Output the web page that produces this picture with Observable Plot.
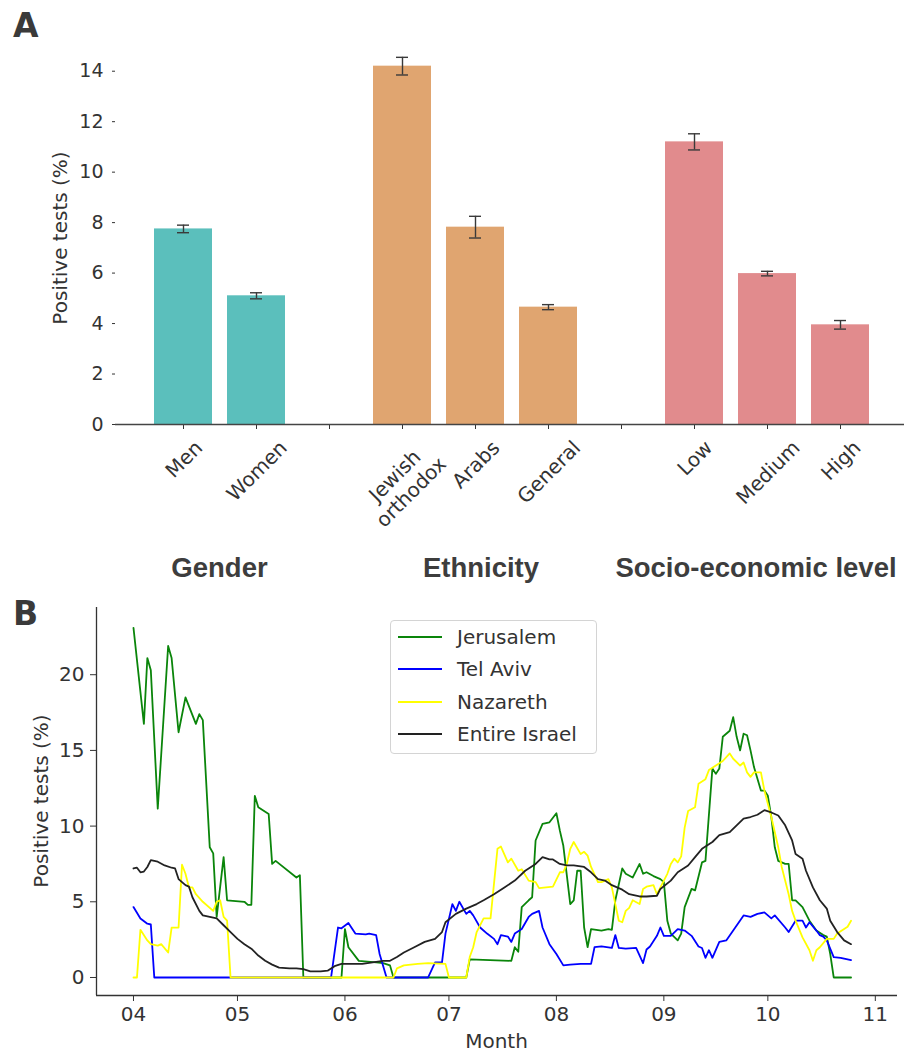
<!DOCTYPE html>
<html><head><meta charset="utf-8">
<script src="https://cdn.jsdelivr.net/npm/d3@7"></script>
<script src="https://cdn.jsdelivr.net/npm/@observablehq/plot@0.6"></script>
<style>
body{margin:0;background:#fff;font-family:"DejaVu Sans",sans-serif;}
#wrap{position:relative;width:904px;height:1053px;overflow:hidden;background:#fff;}
.abs{position:absolute;}
.panel{font:bold 33px "DejaVu Sans";line-height:33px;color:#3a3a3a;}
.group{font:bold 27.5px "Liberation Sans";line-height:28px;color:#3d3d3d;transform:translateX(-50%);white-space:nowrap;}
.ylab{font:20px "DejaVu Sans";color:#333;transform:translate(-50%,-50%) rotate(-90deg);white-space:nowrap;}
.xlab{font:20px "DejaVu Sans";color:#333;transform:translate(-50%,-50%);white-space:nowrap;}
.legend{border:1px solid #d4d4d4;border-radius:4px;background:rgba(255,255,255,0.85);box-sizing:border-box;}
.legrow{position:absolute;left:0;height:32px;width:100%;}
.legline{position:absolute;left:7px;top:15px;width:44px;height:2px;}
.legtext{position:absolute;left:66px;top:3px;font:20px "DejaVu Sans";line-height:26px;color:#333;white-space:nowrap;}
svg{position:absolute;}
</style></head>
<body><div id="wrap"></div>
<script>
// ---------- Panel A data ----------
const categoryOrder = ["Men","Women","gap1","Jewish orthodox","Arabs","General","gap2","Low","Medium","High"];
const barCategories = ["Men","Women","Jewish orthodox","Arabs","General","Low","Medium","High"];
const barLabels = ["Men","Women","Jewish\northodox","Arabs","General","Low","Medium","High"];
const barGroups = ["Gender","Gender","Ethnicity","Ethnicity","Ethnicity","Socio-economic level","Socio-economic level","Socio-economic level"];
const barValues = [7.75, 5.1, 14.2, 7.82, 4.65, 11.2, 5.98, 3.95];
const barErrors = [0.15, 0.12, 0.35, 0.43, 0.1, 0.32, 0.09, 0.17];
const groupNames = ["Gender","Ethnicity","Socio-economic level"];
const groupColors = ["#5bbfbc","#e0a570","#e18b8d"];
const yTicksA = [0,2,4,6,8,10,12,14];

// ---------- Panel B data: [days since 2020-04-01, positive tests %] ----------
const seriesStart = "2020-04-01";
const jerusalem = [[0,23.1],[3,16.75],[4,21.1],[5,20.3],[7,11.15],[10,21.9],[11,21.1],[13,16.2],[15,18.5],[18,16.75],[19,17.4],[20,17.0],[22,8.6],[23,8.2],[24,4.0],[26,7.95],[27,5.1],[32,5.0],[33,4.8],[34,4.8],[35,12.0],[36,11.25],[39,10.8],[40,7.5],[41,7.7],[47,6.6],[48,6.75],[49,0],[60,0],[61,3.2],[62,2.0],[65,1.1],[70,1.0],[72,0.95],[74,0.8],[75,0],[96,0],[97,1.2],[109,1.1],[110,2.0],[111,1.7],[112,4.65],[114,5.1],[115,5.3],[116,9.05],[118,10.15],[120,10.25],[122,10.85],[123,9.7],[124,8.7],[126,4.85],[127,5.1],[128,7.05],[129,7.05],[130,3.3],[131,2.0],[132,3.2],[135,3.1],[137,3.2],[138,3.15],[139,5.1],[141,7.2],[142,6.85],[144,6.6],[146,7.5],[147,6.85],[148,6.95],[150,6.7],[152,6.5],[153,6.3],[154,3.75],[155,2.9],[157,2.45],[158,2.9],[159,4.65],[161,5.85],[162,5.75],[164,7.6],[165,7.7],[167,13.8],[168,13.45],[169,13.8],[170,15.9],[172,16.3],[173,17.2],[174,15.9],[175,15.0],[176,16.1],[177,16.0],[178,15.0],[179,13.9],[181,12.35],[182,12.35],[183,12.0],[184,10.6],[185,8.6],[186,7.7],[188,7.5],[189,7.5],[190,5.1],[191,5.1],[193,4.65],[194,4.2],[195,3.75],[197,3.1],[199,2.8],[200,2.7],[201,1.55],[202,0],[207,0]];
const telAviv = [[0,4.65],[2,3.9],[4,3.55],[5,3.5],[6,0],[57,0],[59,3.3],[60,3.25],[62,3.6],[64,2.9],[67,2.85],[68,2.9],[70,2.8],[71,1.55],[73,0],[85,0],[87,1.0],[89,1.0],[90,2.9],[92,4.85],[93,4.4],[94,5.0],[96,4.2],[97,4.4],[98,4.1],[100,3.3],[102,2.9],[104,2.55],[105,2.2],[106,2.8],[108,2.7],[109,2.35],[110,2.9],[112,3.2],[114,4.0],[115,4.2],[117,4.4],[118,3.3],[120,2.2],[122,1.55],[124,0.8],[126,0.85],[129,0.9],[132,0.9],[133,2.0],[135,2.05],[138,1.95],[139,2.8],[140,1.95],[142,1.9],[145,1.95],[147,0.95],[148,1.85],[149,2.05],[151,2.75],[152,3.3],[153,2.75],[155,2.75],[157,3.2],[159,3.1],[161,2.75],[163,2.05],[164,1.95],[165,1.3],[166,1.8],[167,1.3],[169,2.35],[171,2.45],[173,3.1],[176,4.1],[178,4.0],[180,4.2],[182,4.3],[184,3.9],[185,4.1],[188,3.3],[189,3.0],[191,3.75],[193,3.75],[194,3.3],[195,3.65],[197,3.1],[198,2.8],[199,2.7],[200,2.45],[202,1.35],[204,1.3],[207,1.15]];
const nazareth = [[0,0],[1,0],[2,3.15],[4,2.45],[5,2.2],[7,2.1],[8,2.2],[10,1.65],[11,3.3],[13,3.3],[14,7.45],[15,6.85],[16,5.95],[17,5.95],[18,5.5],[20,5.0],[23,4.4],[24,5.0],[25,5.1],[26,4.0],[27,3.75],[28,0],[75,0],[76,0.6],[78,0.8],[82,0.9],[85,0.95],[90,0.9],[91,0],[96,0],[97,1.35],[98,2.0],[99,3.0],[101,3.9],[103,3.9],[104,6.2],[105,8.5],[106,8.65],[108,7.6],[109,7.85],[111,7.05],[112,7.15],[114,6.4],[116,6.3],[117,5.9],[119,5.95],[121,6.0],[123,6.95],[124,6.95],[125,7.5],[126,8.5],[127,8.95],[129,8.15],[130,8.3],[131,8.05],[132,7.3],[134,6.3],[135,6.3],[137,6.5],[138,5.95],[139,4.85],[140,3.75],[141,3.65],[142,4.4],[143,4.6],[144,5.1],[146,4.85],[147,5.85],[148,6.0],[150,6.1],[151,5.5],[152,5.95],[154,6.85],[155,7.5],[156,7.85],[157,7.6],[158,8.0],[159,9.9],[160,11.0],[162,11.25],[163,12.8],[165,13.1],[166,13.7],[168,14.0],[170,14.3],[172,14.8],[173,14.45],[175,14.0],[176,14.2],[177,13.55],[178,13.25],[179,13.55],[181,13.55],[182,12.35],[184,10.6],[186,8.6],[187,7.3],[189,5.5],[190,4.4],[191,3.75],[193,2.65],[195,1.8],[196,1.1],[197,1.8],[198,2.0],[200,2.55],[202,2.55],[203,2.9],[205,3.2],[206,3.35],[207,3.75]];
const entireIsrael = [[0,7.2],[1,7.25],[2,6.95],[3,7.0],[4,7.3],[5,7.75],[7,7.65],[9,7.4],[11,7.25],[12,7.2],[13,6.5],[15,6.1],[16,6.0],[17,5.3],[19,4.4],[20,4.1],[22,4.0],[24,3.9],[26,3.45],[28,3.0],[30,2.55],[32,2.2],[34,1.9],[36,1.45],[38,1.1],[40,0.85],[42,0.65],[45,0.6],[47,0.6],[49,0.55],[51,0.4],[54,0.4],[56,0.45],[58,0.75],[60,0.9],[63,0.9],[66,0.9],[69,1.0],[72,1.1],[74,1.1],[76,1.35],[78,1.65],[81,2.0],[84,2.35],[87,2.55],[89,3.0],[90,3.65],[93,4.2],[96,4.55],[99,4.85],[101,5.1],[104,5.5],[107,5.95],[110,6.4],[113,7.05],[116,7.5],[118,7.95],[120,7.8],[121,7.8],[123,7.5],[125,7.4],[127,7.4],[130,7.3],[132,6.95],[134,6.5],[136,6.4],[138,6.1],[141,5.8],[143,5.5],[146,5.35],[148,5.35],[151,5.4],[152,5.85],[155,6.4],[157,6.95],[160,7.4],[162,7.95],[164,8.5],[167,8.95],[169,9.4],[172,9.6],[174,10.05],[176,10.5],[178,10.6],[180,10.75],[182,11.05],[184,10.9],[186,10.7],[188,10.05],[190,9.05],[191,8.15],[193,7.85],[194,7.05],[196,5.95],[198,5.1],[200,4.55],[201,3.75],[203,3.0],[205,2.45],[207,2.2]];
const cityNames = ["Jerusalem","Tel Aviv","Nazareth","Entire Israel"];
const citySeries = [jerusalem, telAviv, nazareth, entireIsrael];
const cityColors = ["#0a850a","#0000ff","#ffff00","#222222"];
const yTicksB = [0,5,10,15,20];

// ---------- helpers ----------
const wrap = document.getElementById("wrap");
function addDiv(cls, text, left, top, extra) {
  const d = document.createElement("div");
  d.className = "abs " + cls;
  d.textContent = text;
  d.style.left = left + "px"; d.style.top = top + "px";
  if (extra) Object.assign(d.style, extra);
  wrap.appendChild(d);
  return d;
}
const ctx = document.createElement("canvas").getContext("2d");
function measure(s, font) { ctx.font = font; return ctx.measureText(s).width; }

// ---------- Panel A ----------
const bars = barCategories.map((c, i) => ({key: c, label: barLabels[i], group: barGroups[i], value: barValues[i], err: barErrors[i]}));
const fsA = 19;
const fsLab = 20;
const labelMarks = bars.map(b => {
  const lines = b.label.split("\n");
  const L = Math.max(...lines.map(s => measure(s, fsLab + "px DejaVu Sans")));
  const H = (lines.length - 1) * fsLab * 1.15 + fsLab * 0.75;
  const half = 0.3536 * (L + H);
  return Plot.text([b], {x: "key", y: 0, text: "label", rotate: -45, textAnchor: "middle", lineAnchor: "middle",
    lineHeight: 1.15, dy: 14 + half, fontSize: fsLab, fill: "#333"});
});

const plotA = Plot.plot({
  width: 904, height: 540,
  marginLeft: 115, marginRight: 0, marginTop: 48, marginBottom: 116,
  style: {fontFamily: "DejaVu Sans", fontSize: fsA + "px", color: "#333", background: "transparent", overflow: "visible"},
  x: {domain: categoryOrder, range: [135.5, 887], padding: 0.21, tickSize: 5, tickFormat: () => "", label: null},
  y: {domain: [0, 14.9], ticks: yTicksA, tickSize: 3, tickPadding: 9, label: null},
  color: {domain: groupNames, range: groupColors},
  marks: [
    Plot.barY(bars, {x: "key", y: "value", fill: "group"}),
    Plot.ruleX(bars, {x: "key", y1: d => d.value - d.err, y2: d => d.value + d.err, stroke: "#3a3a3a", strokeWidth: 1.4}),
    Plot.tickY(bars, {x: "key", y: d => d.value - d.err, stroke: "#3a3a3a", strokeWidth: 1.4, insetLeft: 23, insetRight: 23}),
    Plot.tickY(bars, {x: "key", y: d => d.value + d.err, stroke: "#3a3a3a", strokeWidth: 1.4, insetLeft: 23, insetRight: 23}),
    Plot.ruleY([0], {stroke: "#444", strokeWidth: 1.3}),
    ...labelMarks
  ]
});
plotA.style.left = "0px"; plotA.style.top = "0px";
wrap.appendChild(plotA);

// group labels centred under their groups, via the x scale
const xs = plotA.scale("x");
const center = k => xs.apply(k) + xs.bandwidth / 2;
const groupCenters = [
  (center("Men") + center("Women")) / 2,
  center("Arabs") + 6,
  center("Medium") - 11
];
groupNames.forEach((g, i) => addDiv("group", g, groupCenters[i], 554));
addDiv("panel", "A", 13, 9);
addDiv("ylab", "Positive tests (%)", 60, 238);

// ---------- Panel B ----------
const t0 = Date.parse(seriesStart + "T00:00:00Z");
const toDate = d => new Date(t0 + d * 864e5);
const rows = citySeries.flatMap((s, i) => s.map(([d, v]) => ({city: cityNames[i], date: toDate(d), value: v})));
const xDomainB = [toDate(-10.67), toDate(220.4)];
const yDomainB = [-1.19, 24.44];
const monthTicks = d3.utcMonth.range(toDate(0), toDate(215));

const plotB = Plot.plot({
  width: 904, height: 463,
  marginLeft: 96, marginRight: 7, marginTop: 17, marginBottom: 58,
  style: {fontFamily: "DejaVu Sans", fontSize: "20px", color: "#333", background: "transparent", overflow: "visible"},
  x: {type: "utc", domain: xDomainB, ticks: monthTicks, tickFormat: d3.utcFormat("%m"), tickSize: 6, tickPadding: 5, label: null},
  y: {domain: yDomainB, ticks: yTicksB, tickSize: 6, tickPadding: 6, label: null},
  color: {domain: cityNames, range: cityColors},
  marks: [
    Plot.ruleX([xDomainB[0]], {stroke: "#333", strokeWidth: 1.3}),
    Plot.ruleY([yDomainB[0]], {stroke: "#333", strokeWidth: 1.3}),
    Plot.line(rows, {x: "date", y: "value", z: "city", stroke: "city", strokeWidth: 1.8, curve: "linear"})
  ]
});
plotB.style.left = "0px"; plotB.style.top = "590px";
wrap.appendChild(plotB);

addDiv("panel", "B", 13, 597);
addDiv("ylab", "Positive tests (%)", 41, 801);
addDiv("xlab", "Month", 496.5, 1041);

// legend
const leg = addDiv("legend", "", 390, 620, {width: "207px", height: "134px"});
cityNames.forEach((c, i) => {
  const r = document.createElement("div");
  r.className = "legrow"; r.style.top = (i * 32.4) + "px";
  const ln = document.createElement("div"); ln.className = "legline"; ln.style.background = cityColors[i];
  const tx = document.createElement("div"); tx.className = "legtext"; tx.textContent = c;
  r.appendChild(ln); r.appendChild(tx); leg.appendChild(r);
});
</script>
</body></html>
